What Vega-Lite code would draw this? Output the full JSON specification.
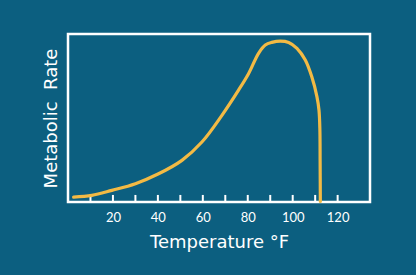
{
  "$schema": "https://vega.github.io/schema/vega-lite/v6.json",
  "autosize": "none",
  "width": 302,
  "height": 168,
  "padding": {"left": 68, "top": 34, "right": 46, "bottom": 73},
  "background": "#0c5f80",
  "config": {
    "view": {"stroke": "#ffffff", "strokeWidth": 2.5},
    "font": "Lato"
  },
  "datasets": {
    "curve": [
      {"temp": 2.5, "rate": 2.9},
      {"temp": 10.6, "rate": 3.9},
      {"temp": 19.5, "rate": 6.9},
      {"temp": 30.0, "rate": 10.9},
      {"temp": 40.3, "rate": 16.8},
      {"temp": 50.7, "rate": 24.8},
      {"temp": 59.6, "rate": 35.7},
      {"temp": 68.5, "rate": 51.6},
      {"temp": 75.9, "rate": 66.6},
      {"temp": 80.4, "rate": 76.5},
      {"temp": 84.8, "rate": 88.5},
      {"temp": 87.8, "rate": 93.4},
      {"temp": 90.7, "rate": 95.0},
      {"temp": 94.5, "rate": 95.8},
      {"temp": 98.2, "rate": 95.0},
      {"temp": 101.9, "rate": 91.5},
      {"temp": 105.6, "rate": 84.5},
      {"temp": 108.5, "rate": 74.5},
      {"temp": 110.8, "rate": 62.6},
      {"temp": 111.7, "rate": 54.6},
      {"temp": 112.1, "rate": 42.7},
      {"temp": 112.2, "rate": 24.8},
      {"temp": 112.3, "rate": 0.3}
    ],
    "ticks": [
      {"temp": 10}, {"temp": 20}, {"temp": 30}, {"temp": 40}, {"temp": 50}, {"temp": 60},
      {"temp": 70}, {"temp": 80}, {"temp": 90}, {"temp": 100}, {"temp": 110}, {"temp": 120}
    ]
  },
  "layer": [
    {
      "data": {"name": "ticks"},
      "mark": {"type": "rule", "color": "#ffffff", "strokeWidth": 2},
      "encoding": {
        "x": {
          "field": "temp",
          "type": "quantitative",
          "scale": {"domain": [0, 134.4], "nice": false, "zero": false},
          "axis": {
            "title": "Temperature °F",
            "values": [20, 40, 60, 80, 100, 120],
            "grid": false,
            "domain": false,
            "ticks": false,
            "labelColor": "#ffffff",
            "labelFontSize": 13,
            "labelPadding": 9,
            "titleColor": "#ffffff",
            "titleFont": "DejaVu Sans",
            "titleFontSize": 18,
            "titleFontWeight": "normal",
            "titlePadding": 9
          }
        },
        "y": {"datum": 0, "type": "quantitative"},
        "y2": {"datum": 4.2}
      }
    },
    {
      "data": {"name": "curve"},
      "mark": {"type": "line", "color": "#f3ba44", "strokeWidth": 3.2, "strokeCap": "round", "interpolate": "catmull-rom"},
      "encoding": {
        "x": {"field": "temp", "type": "quantitative"},
        "y": {
          "field": "rate",
          "type": "quantitative",
          "scale": {"domain": [0, 100], "nice": false},
          "axis": {
            "title": "Metabolic\u00a0 Rate",
            "grid": false,
            "domain": false,
            "ticks": false,
            "labels": false,
            "titleColor": "#ffffff",
            "titleFont": "DejaVu Sans",
            "titleFontSize": 18,
            "titleFontWeight": "normal",
            "titlePadding": 8
          }
        }
      }
    }
  ]
}
